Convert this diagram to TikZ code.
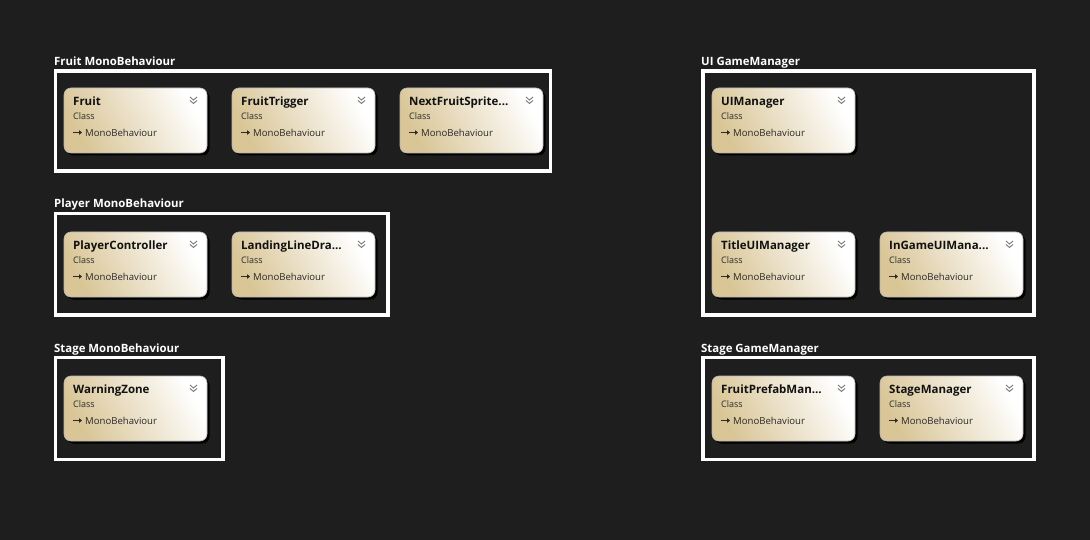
\documentclass[tikz,border=0pt]{standalone}
\usepackage{fontspec}
\setmainfont{Open Sans}
\usetikzlibrary{calc,shadows,arrows.meta}
\definecolor{bg}{HTML}{1E1E1E}
\definecolor{tanc}{HTML}{D9C596}
\definecolor{midc}{HTML}{F2ECDC}
\definecolor{chev}{HTML}{7A7A7A}
\definecolor{txt}{HTML}{111111}
\definecolor{subtxt}{HTML}{2A2A2A}
\tikzset{
  grp/.style={draw=white, line width=3.5pt, anchor=north west, inner sep=0pt, outer sep=0pt},
  grptitle/.style={anchor=base west, inner sep=0pt, text=white, font=\bfseries\fontsize{11.4}{12}\selectfont},
  cls/.style={anchor=north west, minimum width=143pt, minimum height=65pt, inner sep=0pt, outer sep=0pt,
    rounded corners=7pt, draw=gray!55, line width=0.6pt,
    bottom color=tanc, middle color=midc, top color=white, shading angle=-62,
    drop shadow={fill=black, opacity=1, shadow xshift=2.5pt, shadow yshift=-2.5pt}},
  clstitle/.style={anchor=base west, inner sep=0pt, text=txt, font=\bfseries\fontsize{11.5}{12}\selectfont},
  clssub/.style={anchor=base west, inner sep=0pt, text=subtxt, font=\fontsize{9}{10}\selectfont},
  clsbase/.style={anchor=base west, inner sep=0pt, text=subtxt, font=\fontsize{9.6}{10}\selectfont},
  arr/.style={draw=subtxt, line width=0.8pt, -{Triangle[length=3pt,width=4.5pt]}},
  chevron/.style={draw=chev, line width=0.9pt},
}
\newcommand{\classnode}[4]{%
  \node[cls] (#1) at (#2,#3) {};
  \node[clstitle] (#1-t) at ($(#1.north west)+(9,17.3)$) {#4};
  \node[clssub] (#1-c) at ($(#1.north west)+(9,31.3)$) {Class};
  \node[clsbase] (#1-b) at ($(#1.north west)+(21,48.3)$) {MonoBehaviour};
  \coordinate (#1-a1) at ($(#1.north west)+(9,44.5)$);
  \coordinate (#1-a2) at ($(#1.north west)+(18,44.5)$);
  \draw[arr] (#1-a1) -- (#1-a2);
  \draw[chevron] ($(#1.north west)+(126,9)$) -- ++(3.5,3) -- ++(3.5,-3)
                 ($(#1.north west)+(126,12.5)$) -- ++(3.5,3) -- ++(3.5,-3);
}
\begin{document}
\begin{tikzpicture}[x=1pt,y=-1pt]
\fill[bg] (0,0) rectangle (1090,540);
\useasboundingbox (0,0) rectangle (1090,540);

% groups
\node[grptitle] (t1) at (54,66) {Fruit MonoBehaviour};
\node[grp, minimum width=495pt, minimum height=100pt] (g1) at (55.5,71) {};
\node[grptitle] (t2) at (54,208) {Player MonoBehaviour};
\node[grp, minimum width=332.5pt, minimum height=101.5pt] (g2) at (55.5,213.5) {};
\node[grptitle] (t3) at (54,352) {Stage MonoBehaviour};
\node[grp, minimum width=167.5pt, minimum height=102pt] (g3) at (55.5,357.5) {};
\node[grptitle] (t4) at (701,66) {UI GameManager};
\node[grp, minimum width=331pt, minimum height=244pt] (g4) at (703,71) {};
\node[grptitle] (t5) at (701,352) {Stage GameManager};
\node[grp, minimum width=331pt, minimum height=102pt] (g5) at (703,357.5) {};

% classes
\classnode{fruit}{64}{88}{Fruit}
\classnode{trigger}{232}{88}{FruitTrigger}
\classnode{nextfs}{400}{88}{NextFruitSprite...}
\classnode{player}{64}{232}{PlayerController}
\classnode{landing}{232}{232}{LandingLineDra...}
\classnode{warning}{64}{376}{WarningZone}
\classnode{uimgr}{712}{88}{UIManager}
\classnode{titleui}{712}{232}{TitleUIManager}
\classnode{ingameui}{880}{232}{InGameUIMana...}
\classnode{prefab}{712}{376}{FruitPrefabMan...}
\classnode{stagemgr}{880}{376}{StageManager}
\end{tikzpicture}
\end{document}
